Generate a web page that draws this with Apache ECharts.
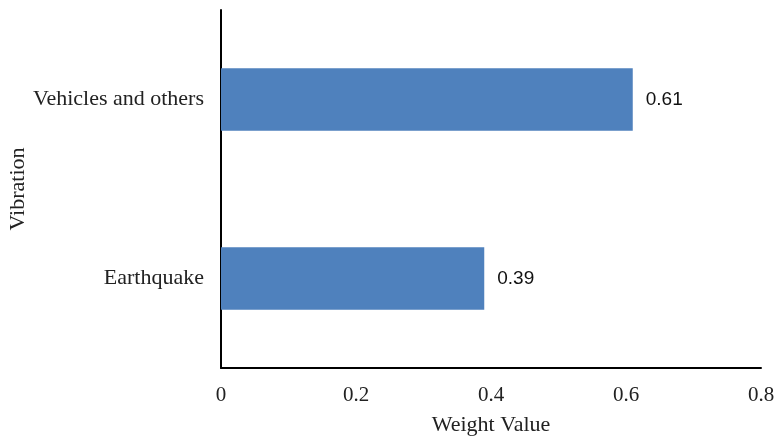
<!DOCTYPE html>
<html>
<head>
<meta charset="utf-8">
<script src="https://cdn.jsdelivr.net/npm/echarts@6/dist/echarts.min.js"></script>
<style>
  html, body { margin: 0; padding: 0; background: #fff; }
  #chart { width: 776px; height: 439px; }
</style>
</head>
<body>
<div id="chart"></div>
<script>
// Weight value per vibration source
const categories = ['Earthquake', 'Vehicles and others'];
const weightValues = [0.39, 0.61];
const xTicks = [0, 0.2, 0.4, 0.6, 0.8];

const serif = '"Liberation Serif", "Times New Roman", serif';
const chart = echarts.init(document.getElementById('chart'), null, { renderer: 'canvas' });

chart.setOption({
  animation: false,
  grid: { left: 221, right: 15, top: 10, bottom: 71, containLabel: false, outerBoundsMode: 'none' },
  xAxis: {
    type: 'value',
    min: xTicks[0],
    max: xTicks[xTicks.length - 1],
    interval: 0.2,
    name: 'Weight Value',
    nameLocation: 'middle',
    nameGap: 46,
    nameMoveOverlap: false,
    nameTextStyle: { fontFamily: serif, fontSize: 22, color: '#222' },
    axisLine: { show: true, lineStyle: { color: '#000', width: 2 } },
    axisTick: { show: false },
    splitLine: { show: false },
    axisLabel: {
      margin: 17,
      fontFamily: serif, fontSize: 21, color: '#222',
      formatter: v => String(+v.toFixed(1))
    }
  },
  yAxis: {
    type: 'category',
    data: categories,
    name: 'Vibration',
    nameLocation: 'middle',
    nameGap: 192,
    nameMoveOverlap: false,
    nameRotate: 90,
    nameTextStyle: { fontFamily: serif, fontSize: 22, color: '#222' },
    axisLine: { show: true, lineStyle: { color: '#000', width: 2 } },
    axisTick: { show: false },
    axisLabel: { margin: 17, fontFamily: serif, fontSize: 22, color: '#222' }
  },
  series: [{
    type: 'bar',
    data: weightValues,
    barWidth: '35%',
    itemStyle: { color: '#4F81BD' },
    label: {
      show: true,
      position: 'right',
      distance: 13,
      fontFamily: '"Liberation Sans", Arial, sans-serif',
      fontSize: 19,
      color: '#111',
      formatter: p => p.value.toFixed(2)
    }
  }]
});
</script>
</body>
</html>
